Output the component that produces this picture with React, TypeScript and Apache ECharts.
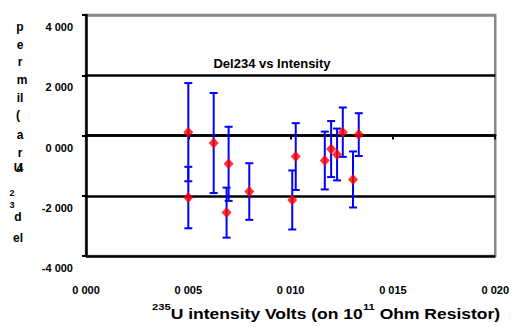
import React, { useEffect, useRef } from "react";
import * as echarts from "echarts";

// U-235 intensity (volts) and del234 (per mil) with 1-sigma errors
const intensity = [0.005, 0.005, 0.00624, 0.00697, 0.00687, 0.00798, 0.01008, 0.01025, 0.01167, 0.01198, 0.01227, 0.01255, 0.01305, 0.01333];
const del234 = [0.11, -2.06, -0.25, -0.94, -2.56, -1.86, -2.14, -0.7, -0.83, -0.45, -0.63, 0.11, -1.46, 0.03];
const errors = [1.63, 1.02, 1.66, 1.23, 0.83, 0.94, 0.98, 1.11, 0.96, 0.93, 0.86, 0.82, 0.93, 0.71];

const title = "Del234 vs Intensity";
// y axis title, drawn character by character as in the reference
const yTitleParts: [string, number, number, number][] = [
  ["p", 20, 27, 12],
  ["e", 20, 45, 12],
  ["r", 20, 62, 12],
  ["m", 22, 80, 12],
  ["il", 20, 98, 12],
  ["(", 18, 115, 12],
  ["a", 20, 135, 12],
  ["r", 20, 153, 12],
  ["U", 18, 168, 12],
  ["4", 20, 168, 12],
  ["2", 12, 193, 9],
  ["3", 12, 205, 9],
  ["d", 18, 217, 12],
  ["el", 18, 238, 12],
];

const fmt = (v: number) => v.toFixed(3).replace(".", " ");

export default function App() {
  const ref = useRef<HTMLDivElement>(null);
  useEffect(() => {
    if (!ref.current) return;
    const chart = echarts.init(ref.current, null, { renderer: "svg" });
    const font = "'Liberation Sans', Arial, sans-serif";
    const pts = intensity.map((x, i) => [x, del234[i], errors[i]]);
    chart.setOption({
      animation: false,
      textStyle: { fontFamily: font },
      grid: {
        left: 86,
        right: 14,
        top: 15,
        bottom: 71,
        show: true,
        borderColor: "#888888",
        borderWidth: 2.5,
      },
      xAxis: {
        type: "value",
        min: 0,
        max: 0.02,
        interval: 0.005,
        axisLine: { show: true, lineStyle: { color: "#000", width: 2.5 } },
        axisTick: { show: true, length: 4, lineStyle: { color: "#000", width: 2 } },
        axisLabel: {
          formatter: fmt,
          color: "#000",
          fontWeight: "bold",
          fontSize: 11,
          fontFamily: font,
          margin: 28,
          verticalAlign: "top",
          showMaxLabel: true,
        },
        splitLine: { show: false },
      },
      yAxis: {
        type: "value",
        min: -4,
        max: 4,
        interval: 2,
        axisLine: { show: true, onZero: false, lineStyle: { color: "#000", width: 2.5 } },
        axisTick: { show: true, length: 4, lineStyle: { color: "#000", width: 2 } },
        axisLabel: {
          formatter: fmt,
          color: "#000",
          fontWeight: "bold",
          fontSize: 11,
          fontFamily: font,
          margin: 13,
          verticalAlign: "top",
          lineHeight: 24,
        },
        splitLine: {
          show: true,
          lineStyle: { color: ["#000", "#000", "#000", "#000", "#888888"], width: 2.5 },
        },
      },
      series: [
        {
          type: "custom",
          data: pts,
          z: 2,
          renderItem: (params: any, api: any) => {
            const x = api.value(0);
            const y = api.value(1);
            const e = api.value(2);
            const t = api.coord([x, y + e]);
            const b = api.coord([x, y - e]);
            const hw = 4;
            const st = { stroke: "#0000ff", lineWidth: 2 };
            return {
              type: "group",
              children: [
                { type: "line", shape: { x1: t[0], y1: t[1], x2: b[0], y2: b[1] }, style: st },
                { type: "line", shape: { x1: t[0] - hw, y1: t[1], x2: t[0] + hw, y2: t[1] }, style: st },
                { type: "line", shape: { x1: b[0] - hw, y1: b[1], x2: b[0] + hw, y2: b[1] }, style: st },
              ],
            };
          },
        },
        {
          type: "scatter",
          data: pts.map((p) => [p[0], p[1]]),
          symbol: "diamond",
          symbolSize: [10, 11],
          itemStyle: { color: "#ff0000" },
          z: 3,
        },
      ],
      graphic: [
        {
          type: "text",
          x: 272,
          y: 63,
          style: {
            text: title,
            fill: "#000",
            font: `bold 13px ${font}`,
            align: "center",
            verticalAlign: "middle",
          },
        },
        {
          type: "text",
          x: 152,
          y: 312,
          scaleX: 1.25,
          style: {
            text: "{sup|235}{n|U intensity Volts (on 10}{sup|11}{n| Ohm Resistor)}",
            fill: "#000",
            verticalAlign: "middle",
            rich: {
              n: { fontSize: 14, fontWeight: "bold", fontFamily: font, fill: "#000", verticalAlign: "bottom" },
              sup: { fontSize: 9, fontWeight: "bold", fontFamily: font, fill: "#000", verticalAlign: "top", padding: [0, 0, 10, 0] },
            },
          },
        },
        ...yTitleParts.map(([s, x, y, fs]) => ({
          type: "text",
          x,
          y,
          style: {
            text: s,
            fill: "#000",
            font: `bold ${fs}px ${font}`,
            align: "center",
            verticalAlign: "middle",
          },
        })),
      ],
    });
    return () => chart.dispose();
  }, []);
  return <div ref={ref} style={{ position: "absolute", left: 0, top: 0, width: 512, height: 327 }} />;
}
